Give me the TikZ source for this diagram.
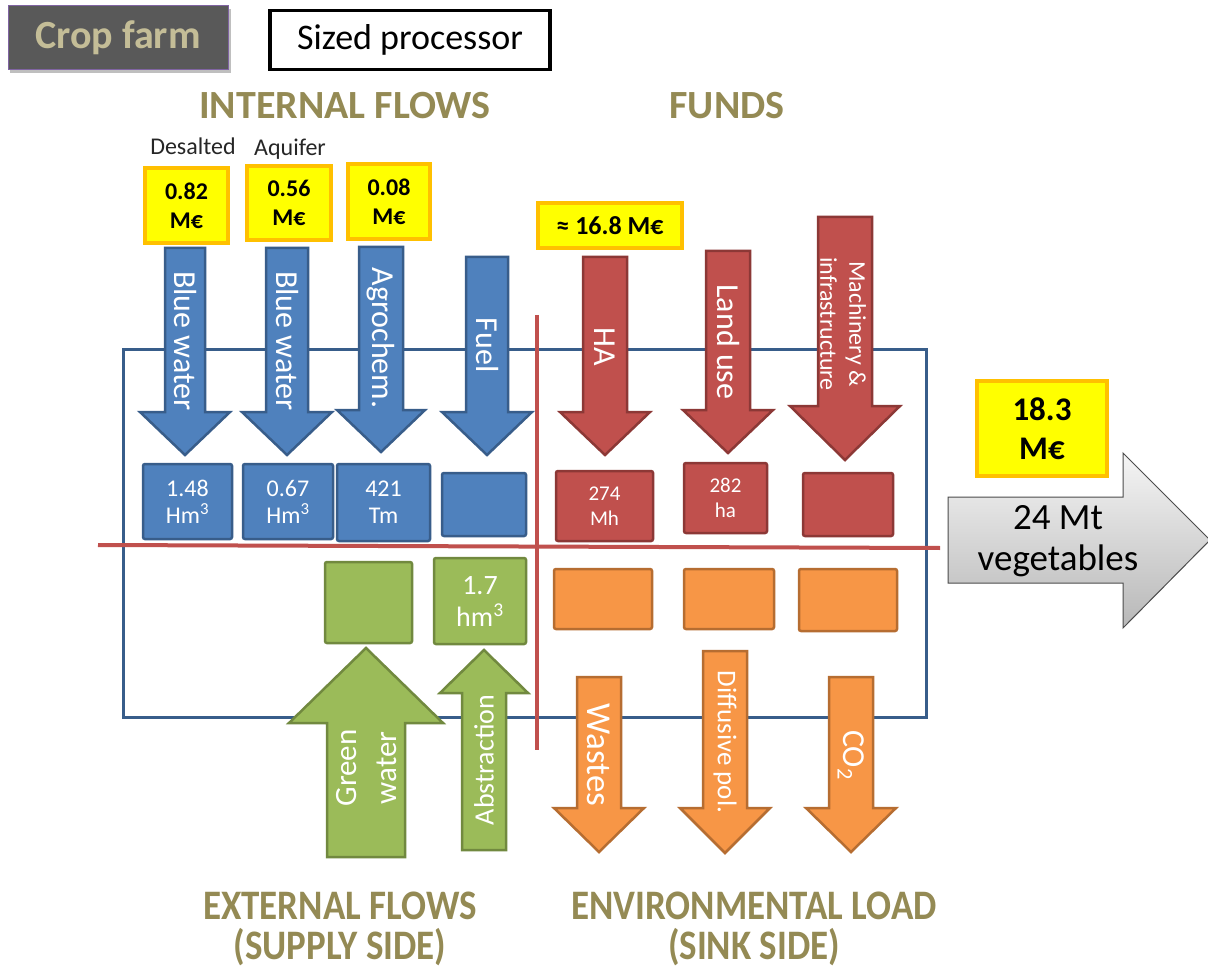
\documentclass[tikz,border=0pt]{standalone}
\usepackage{fontspec}
\setmainfont{Carlito}
\usepackage{graphicx}
\definecolor{blueF}{HTML}{4F81BD}
\definecolor{blueD}{HTML}{385D8A}
\definecolor{redF}{HTML}{C0504D}
\definecolor{redD}{HTML}{8C3836}
\definecolor{greenF}{HTML}{9BBB59}
\definecolor{greenD}{HTML}{71893F}
\definecolor{orangeF}{HTML}{F79646}
\definecolor{orangeD}{HTML}{B66D31}
\definecolor{yellowF}{HTML}{FFFF00}
\definecolor{yellowD}{HTML}{FFC000}
\definecolor{olive}{HTML}{948A54}
\definecolor{tan}{HTML}{C4BD97}
\definecolor{darkgrey}{HTML}{595959}
\definecolor{purpleD}{HTML}{8064A2}
\newcommand\fs[2]{\fontsize{#1}{#2}\selectfont}
\newcommand\blockarr[7]{\draw[#1] ({#2-#4},#3) -- ({#2+#4},#3) -- ({#2+#4},#5) -- ({#2+#6},#5) -- (#2,#7) -- ({#2-#6},#5) -- ({#2-#4},#5) -- cycle;}
\tikzset{
  arrB/.style={fill=blueF, draw=blueD, line width=2.5pt, line join=miter},
  arrR/.style={fill=redF, draw=redD, line width=2.5pt, line join=miter},
  arrG/.style={fill=greenF, draw=greenD, line width=2.5pt, line join=miter},
  arrO/.style={fill=orangeF, draw=orangeD, line width=2.5pt, line join=miter},
  boxbase/.style={rectangle, line width=2.5pt, rounded corners=2pt, inner sep=0pt, text=white, align=center},
  boxB/.style={boxbase, fill=blueF, draw=blueD},
  boxR/.style={boxbase, fill=redF, draw=redD},
  boxG/.style={boxbase, fill=greenF, draw=greenD},
  boxO/.style={boxbase, fill=orangeF, draw=orangeD},
  ybox/.style={rectangle, fill=yellowF, draw=yellowD, line width=4pt, inner sep=0pt, align=center, font=\bfseries\fs{24}{29}},
  lbl/.style={text=white, inner sep=0pt, align=center, font=\fs{32}{36}},
  head/.style={text=olive, inner sep=0pt, align=center, font=\bfseries\fs{40}{46}},
  small/.style={text=black!85, inner sep=0pt, font=\fs{24}{28}},
  redline/.style={draw=redF, line width=4pt},
}
\begin{document}
\begin{tikzpicture}[x=1pt,y=-1pt]
\useasboundingbox (0,0) rectangle (1208,968);
\fill[white] (0,0) rectangle (1208,968);

% top labels
\fill[black!25] (10,9) rectangle (231,73);
\node[rectangle, fill=darkgrey, draw=purpleD, line width=1pt, minimum width=220, minimum height=64, inner sep=0pt,
      text=tan, font=\bfseries\fs{40}{44}] (crop) at (118,38) {Crop farm};
\node[rectangle, fill=white, draw=black, line width=3.5pt, minimum width=280, minimum height=59, inner sep=0pt,
      font=\fs{36}{40}] (sized) at (410,40) {Sized processor};

\node[head] (internal) at (345,106) {INTERNAL FLOWS};
\node[head] (funds) at (727,106) {FUNDS};

\node[small] (desal) at (193,146) {Desalted};
\node[small] (aquif) at (290,149) {Aquifer};

% main frame and dividing lines
\draw[draw=blueD, line width=3pt] (123,350) rectangle (926,717);
\coordinate (hl1) at (98,545);
\coordinate (hl2) at (940,548);
\coordinate (vl1) at (537,315);
\coordinate (vl2) at (537,750);
\draw[redline] (hl1) -- (hl2);
\draw[redline] (vl1) -- (vl2);

% yellow cost boxes
\node[ybox, minimum width=83, minimum height=75] (y1) at (186.5,205.5) {0.82\\M€};
\node[ybox, minimum width=84, minimum height=74] (y2) at (289,203) {0.56\\M€};
\node[ybox, minimum width=82, minimum height=75] (y3) at (389,201.5) {0.08\\M€};
\node[ybox, minimum width=144, minimum height=45, font=\bfseries\fs{26}{30}] (y4) at (610,225.5) {≈ 16.8 M€};

% blue arrows
\blockarr{arrB}{185}{248}{20}{412}{45}{455}
\blockarr{arrB}{287}{248}{21}{412}{45}{455}
\blockarr{arrB}{381}{247}{22}{410}{44}{452}
\blockarr{arrB}{487}{257}{21}{412}{45}{455}
\node[lbl, rotate=-90] (tbw1) at (185,341) {Blue water};
\node[lbl, rotate=-90] (tbw2) at (287,341) {Blue water};
\node[lbl, rotate=-90] (tagr) at (381,338) {Agrochem.};
\node[lbl, rotate=-90] (tfuel) at (487,345) {Fuel};

% red arrows
\blockarr{arrR}{605}{257}{22}{412}{45}{455}
\blockarr{arrR}{728}{251}{22}{410}{45}{453}
\blockarr{arrR}{845}{217}{27}{406}{55}{460}
\node[lbl, rotate=-90] (tha) at (605,347) {HA};
\node[lbl, rotate=-90] (tland) at (728,342) {Land use};
\node[lbl, rotate=-90, font=\fs{24}{29}] (tmach) at (843,324) {Machinery \&\\infrastructure};

% blue boxes
\node[boxB, minimum width=89, minimum height=75, font=\fs{24}{27}] (b1) at (187.5,501.5) {1.48\\Hm\textsuperscript{3}};
\node[boxB, minimum width=90, minimum height=75, font=\fs{24}{27}] (b2) at (288,501.5) {0.67\\Hm\textsuperscript{3}};
\node[boxB, minimum width=93, minimum height=77, font=\fs{24}{27}] (b3) at (383.5,502.5) {421\\Tm};
\node[boxB, minimum width=84, minimum height=63] (b4) at (484,504.5) {};

% red boxes
\node[boxR, minimum width=97, minimum height=70, font=\fs{21}{25}] (r1) at (604.5,506) {274\\Mh};
\node[boxR, minimum width=83, minimum height=70, font=\fs{21}{25}] (r2) at (725.5,498) {282\\ha};
\node[boxR, minimum width=90, minimum height=63] (r3) at (848,504.5) {};

% green boxes
\node[boxG, minimum width=87, minimum height=81] (g1) at (368.5,602.5) {};
\node[boxG, minimum width=92, minimum height=86, font=\fs{28}{32}] (g2) at (480,601) {1.7\\hm\textsuperscript{3}};

% orange boxes
\node[boxO, minimum width=98, minimum height=60] (o1) at (603,599) {};
\node[boxO, minimum width=90, minimum height=60] (o2) at (729,599) {};
\node[boxO, minimum width=98, minimum height=62] (o3) at (848,600) {};

% green arrows (up)
\blockarr{arrG}{366}{857}{39}{723}{77}{648}
\blockarr{arrG}{484}{850}{22}{693}{44}{650}
\node[lbl, rotate=90, font=\fs{31}{40}] (tgreen) at (367,768) {Green\\water};
\node[lbl, rotate=90, font=\fs{28}{30}] (tabs) at (484,760) {Abstraction};

% orange arrows (down)
\blockarr{arrO}{599}{677}{22}{808}{45}{852}
\blockarr{arrO}{725}{651}{22}{808}{45}{853}
\blockarr{arrO}{851}{677}{22}{808}{45}{852}
\node[lbl, rotate=-90, font=\fs{35}{38}] (twaste) at (599,755) {Wastes};
\node[lbl, rotate=-90, font=\fs{27}{30}] (tdiff) at (725,742) {Diffusive pol.};
\node[lbl, rotate=-90, font=\fs{32}{34}] (tco2) at (851,755) {CO\textsubscript{2}};

% output arrow
\draw[top color=black!4, bottom color=black!28, draw=black!70, line width=1pt, line join=miter]
  (948,497) -- (1123,497) -- (1123,453) -- (1210,540) -- (1123,628) -- (1123,583) -- (948,583) -- cycle;
\node[inner sep=0pt, align=center, font=\fs{37}{41}] (tveg) at (1058,541) {24 Mt\\vegetables};
\node[ybox, minimum width=130, minimum height=95, font=\bfseries\fs{33}{39}] (y5) at (1042,428.5) {18.3\\M€};

% bottom headings
\node[head, font=\bfseries\fs{42}{40}] (ext) at (340,929) {\scalebox{0.88}[1]{EXTERNAL FLOWS}\\\scalebox{0.88}[1]{(SUPPLY SIDE)}};
\node[head, font=\bfseries\fs{42}{40}] (env) at (754,929) {\scalebox{0.88}[1]{ENVIRONMENTAL LOAD}\\\scalebox{0.88}[1]{(SINK SIDE)}};
\end{tikzpicture}
\end{document}
